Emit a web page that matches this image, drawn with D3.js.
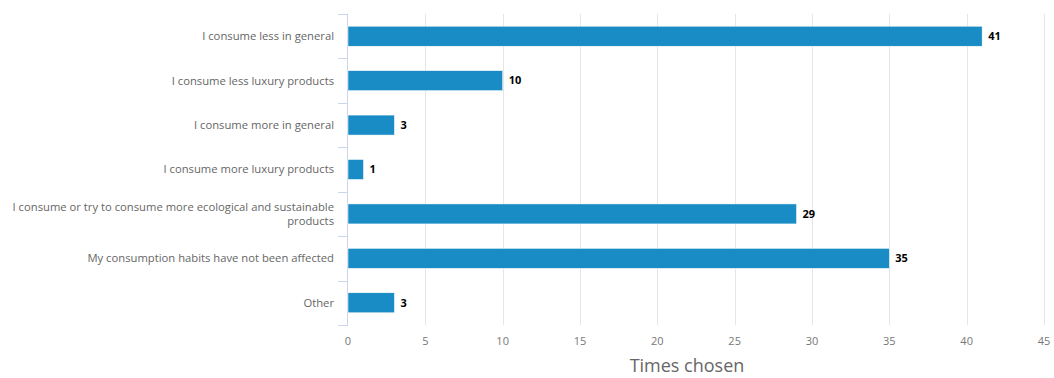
<!DOCTYPE html>
<html>
<head>
<meta charset="utf-8">
<script src="https://cdn.jsdelivr.net/npm/d3@7"></script>
<style>
  body { margin: 0; background: #fff; }
  svg { font-family: "Open Sans", sans-serif; }
</style>
</head>
<body>
<svg width="1054" height="378"></svg>
<script>
// Data
const categories = [
  ["I consume less in general"],
  ["I consume less luxury products"],
  ["I consume more in general"],
  ["I consume more luxury products"],
  ["I consume or try to consume more ecological and sustainable", "products"],
  ["My consumption habits have not been affected"],
  ["Other"]
];
const values = [41, 10, 3, 1, 29, 35, 3];
const xTicks = [0, 5, 10, 15, 20, 25, 30, 35, 40, 45];
const axisTitle = "Times chosen";

// Layout
const plotLeft = 348, plotRight = 1044, plotTop = 14, plotBottom = 325;

const svg = d3.select("svg");

const x = d3.scaleLinear().domain([0, 45]).range([plotLeft, plotRight]);
const y = d3.scaleBand()
  .domain(d3.range(categories.length))
  .range([plotTop, plotBottom])
  .paddingInner(0.55)
  .paddingOuter(0.275);

// Gridlines
svg.append("g")
  .selectAll("line")
  .data(xTicks.slice(1))
  .enter()
  .append("line")
  .attr("x1", d => Math.round(x(d)) + 0.5)
  .attr("x2", d => Math.round(x(d)) + 0.5)
  .attr("y1", plotTop)
  .attr("y2", plotBottom)
  .attr("stroke", "#e6e6e6")
  .attr("stroke-width", 1);

// Category axis line + ticks
const band = (plotBottom - plotTop) / categories.length;
svg.append("line")
  .attr("x1", plotLeft - 0.5).attr("x2", plotLeft - 0.5)
  .attr("y1", plotTop).attr("y2", plotBottom)
  .attr("stroke", "#ccd6eb");
svg.append("g")
  .selectAll("line")
  .data(d3.range(categories.length + 1))
  .enter()
  .append("line")
  .attr("x1", plotLeft - 10).attr("x2", plotLeft)
  .attr("y1", i => Math.round(plotTop + i * band) + 0.5)
  .attr("y2", i => Math.round(plotTop + i * band) + 0.5)
  .attr("stroke", "#ccd6eb");

// Bars
svg.append("g")
  .selectAll("rect")
  .data(values)
  .enter()
  .append("rect")
  .attr("x", x(0))
  .attr("y", (d, i) => y(i))
  .attr("width", d => x(d) - x(0))
  .attr("height", y.bandwidth())
  .attr("fill", "#1a8cc5")
  .attr("stroke", "#fff")
  .attr("stroke-width", 0.5);

// Value labels
svg.append("g")
  .selectAll("text")
  .data(values)
  .enter()
  .append("text")
  .attr("x", d => x(d) + 6)
  .attr("y", (d, i) => y(i) + y.bandwidth() / 2)
  .attr("dy", "0.35em")
  .style("font-size", "11px")
  .style("font-weight", "bold")
  .style("fill", "#000")
  .text(d => d);

// Category labels
const labels = svg.append("g")
  .selectAll("text")
  .data(categories)
  .enter()
  .append("text")
  .attr("text-anchor", "end")
  .style("font-size", "11.25px")
  .style("fill", "#666");
labels.each(function(lines, i) {
  const cy = y(i) + y.bandwidth() / 2;
  const lh = 14;
  const t = d3.select(this);
  lines.forEach((ln, j) => {
    t.append("tspan")
      .attr("x", 334)
      .attr("y", cy + (j - (lines.length - 1) / 2) * lh)
      .attr("dy", "0.35em")
      .text(ln);
  });
});

// X tick labels
svg.append("g")
  .selectAll("text")
  .data(xTicks)
  .enter()
  .append("text")
  .attr("x", d => x(d))
  .attr("y", 345)
  .attr("text-anchor", "middle")
  .style("font-size", "11px")
  .style("fill", "#777")
  .text(d => d);

// Axis title
svg.append("text")
  .attr("x", 687)
  .attr("y", 372)
  .attr("text-anchor", "middle")
  .style("font-size", "18px")
  .style("fill", "#666")
  .text(axisTitle);
</script>
</body>
</html>
